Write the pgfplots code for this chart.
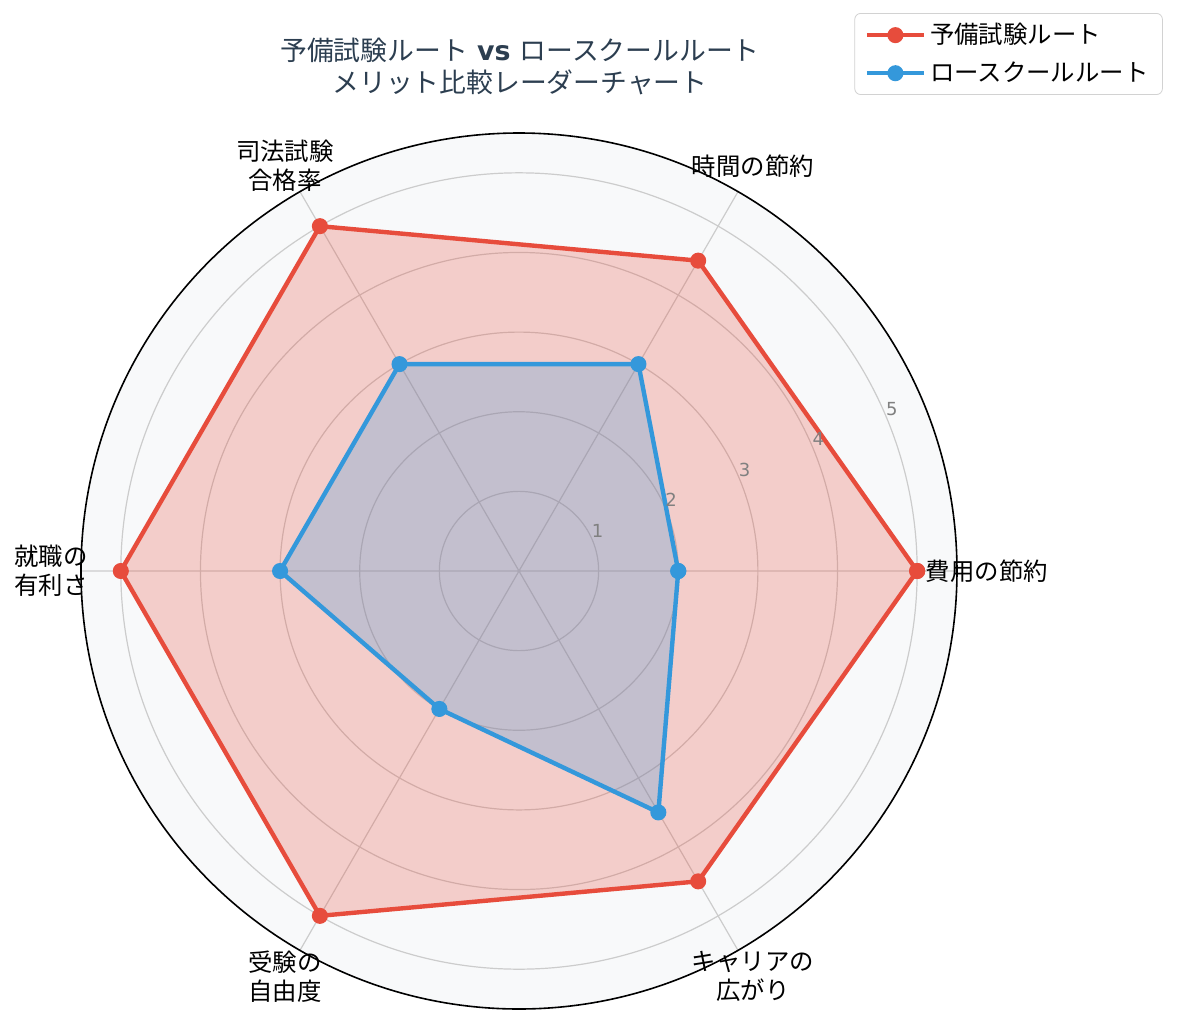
\documentclass[border=0pt]{standalone}
\usepackage{pgfplots}
\pgfplotsset{compat=1.18}
\usepgfplotslibrary{polar}
\usepackage{fontspec}
\setmainfont{Noto Sans CJK JP}
\newfontfamily\dejavu{DejaVu Sans}
\definecolor{cred}{HTML}{E74C3C}
\definecolor{cblue}{HTML}{3498DB}
\definecolor{bgc}{HTML}{F8F9FA}
\definecolor{titlec}{HTML}{2C3E50}
\definecolor{tickc}{HTML}{808080}
\begin{document}
\begin{tikzpicture}
\path[use as bounding box] (-259.5pt,-226.5pt) rectangle (330pt,285.5pt);
\begin{polaraxis}[
  at={(0pt,0pt)}, anchor=center,
  width=438pt, height=438pt, scale only axis,
  xmin=0, xmax=360, ymin=0, ymax=5.5,
  xtick={0,60,120,180,240,300},
  xticklabels={費用の節約, 時間の節約, {司法試験\\合格率}, {就職の\\有利さ}, {受験の\\自由度}, {キャリアの\\広がり}},
  xticklabel style={anchor=center, align=center, font=\fontsize{12.2}{14.5}\selectfont, shift={(\tick:15pt)}},
  ytick={1,2,3,4,5},
  yticklabels={},
  tick style={draw=none},
  major tick length=0pt,
  xmajorgrids, ymajorgrids,
  major grid style={gray!40, line width=0.6pt},
  axis line style={black, line width=0.8pt},
  y axis line style={draw=none},
  axis background/.style={fill=bgc},
  legend style={at={(1.235,1.137)}, anchor=north east, draw=gray!35, rounded corners=3pt,
    font=\fontsize{12.2}{14.5}\selectfont, row sep=3.5pt, inner xsep=5pt, inner ysep=3pt},
  legend cell align=left,
  legend image code/.code={\draw[mark repeat=2, mark phase=2, #1] plot coordinates {(0cm,0cm) (0.5cm,0cm) (1cm,0cm)};},
]
\addplot[draw=none, fill=cred, fill opacity=0.25, forget plot] coordinates {
  (0,5) (60,4.5) (120,5) (180,5) (240,5) (300,4.5) (360,5)};
\addplot[cred, line width=2.2pt, mark=*, mark size=2.9pt, mark options={solid}] coordinates {
  (0,5) (60,4.5) (120,5) (180,5) (240,5) (300,4.5) (360,5)};
\addlegendentry{予備試験ルート}
\addplot[draw=none, fill=cblue, fill opacity=0.25, forget plot] coordinates {
  (0,2) (60,3) (120,3) (180,3) (240,2) (300,3.5) (360,2)};
\addplot[cblue, line width=2.2pt, mark=*, mark size=2.9pt, mark options={solid}] coordinates {
  (0,2) (60,3) (120,3) (180,3) (240,2) (300,3.5) (360,2)};
\addlegendentry{ロースクールルート}
\node[font=\dejavu\fontsize{9}{10}\selectfont, text=tickc, xshift=2.5pt, yshift=5pt] at (axis cs:22.5,1) {1};
\node[font=\dejavu\fontsize{9}{10}\selectfont, text=tickc, xshift=2.5pt, yshift=5pt] at (axis cs:22.5,2) {2};
\node[font=\dejavu\fontsize{9}{10}\selectfont, text=tickc, xshift=2.5pt, yshift=5pt] at (axis cs:22.5,3) {3};
\node[font=\dejavu\fontsize{9}{10}\selectfont, text=tickc, xshift=2.5pt, yshift=5pt] at (axis cs:22.5,4) {4};
\node[font=\dejavu\fontsize{9}{10}\selectfont, text=tickc, xshift=2.5pt, yshift=5pt] at (axis cs:22.5,5) {5};
\end{polaraxis}
\node[font=\fontsize{13.4}{16}\selectfont, text=titlec, align=center] at (0.5pt,252.5pt)
  {予備試験ルート{\dejavu\bfseries\ vs\ }ロースクールルート\\メリット比較レーダーチャート};
\end{tikzpicture}
\end{document}
